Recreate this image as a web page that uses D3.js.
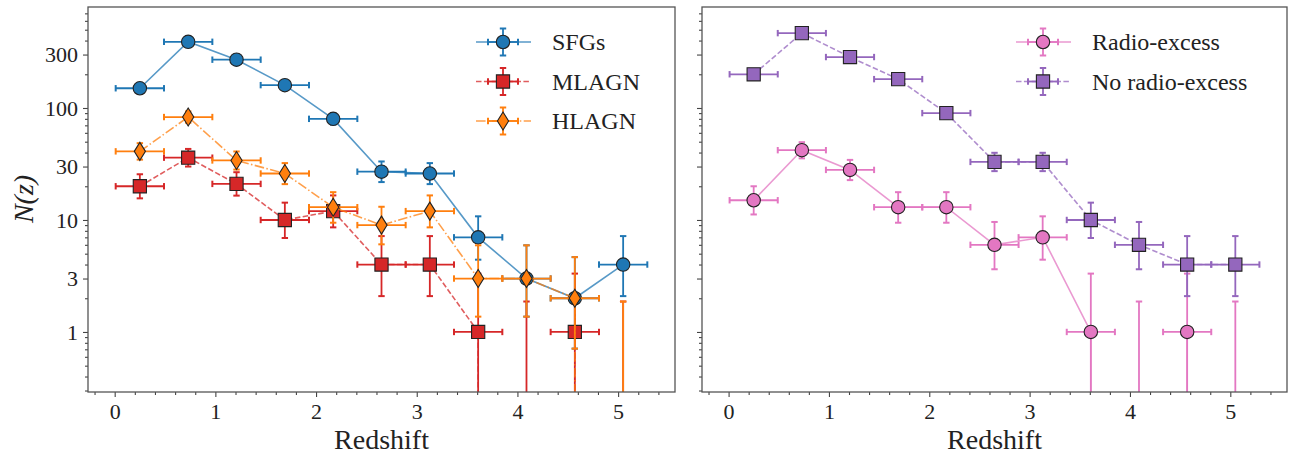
<!DOCTYPE html>
<html><head><meta charset="utf-8">
<script src="https://cdn.jsdelivr.net/npm/d3@7"></script>
<style>
body{margin:0;background:#fff}
text{font-family:"Liberation Serif","Times New Roman",serif;fill:#222}
</style>
</head><body>
<svg id="c" width="1292" height="460"></svg>
<script>
// ---------------- data ----------------
const redshift = [0.25,0.73,1.21,1.69,2.17,2.65,3.13,3.61,4.09,4.57,5.05];
const zHalfWidth = [0.24,0.24,0.24,0.24,0.24,0.24,0.24,0.24,0.24,0.24,0.24];

// left panel
const sfgN  = [150,390,270,160,80,27,26,7,3,2,4];
const sfgLo = [137.8,370.3,253.6,147.4,71.1,21.8,20.9,4.42,1.37,0.71,2.09];
const sfgHi = [163.3,410.8,287.5,173.7,90.0,33.3,32.2,10.78,5.94,4.66,7.18];

const mlagnN  = [20,36,21,10,12,4,4,1,0,1,0];
const mlagnLo = [15.6,30.0,16.5,6.90,8.59,2.09,2.09,0.17,0,0.17,0];
const mlagnHi = [25.6,43.1,26.7,14.28,16.57,7.18,7.18,3.32,1.87,3.32,1.87];

const hlagnN  = [41,83,34,26,13,9,12,3,3,2,0];
const hlagnLo = [34.6,73.9,28.2,20.9,9.45,6.06,8.59,1.37,1.37,0.71,0];
const hlagnHi = [48.5,93.2,40.9,32.2,17.71,13.12,16.57,5.94,5.94,4.66,1.87];

// right panel
const radioN  = [15,42,28,13,13,6,7,1,0,1,0];
const radioLo = [11.2,35.5,22.7,9.45,9.45,3.63,4.42,0.17,0,0.17,0];
const radioHi = [20.0,49.5,34.4,17.71,17.71,9.60,10.78,3.32,1.87,3.32,1.87];

const noRadioN  = [200,466,285,181,90,33,33,10,6,4,4];
const noRadioLo = [185.9,444.4,268.1,167.6,80.5,27.3,27.3,6.90,3.63,2.09,2.09];
const noRadioHi = [215.2,488.7,302.9,195.5,100.5,39.8,39.8,14.28,9.60,7.18,7.18];

const xTicks = [0,1,2,3,4,5];
const xMinorTicks = [-0.2,0.2,0.4,0.6,0.8,1.2,1.4,1.6,1.8,2.2,2.4,2.6,2.8,3.2,3.4,3.6,3.8,4.2,4.4,4.6,4.8,5.2,5.4];
const yTicks = [1,3,10,30,100,300];
const yTickLabels = ["1","3","10","30","100","300"];
const yMinorTicks = [0.3,0.4,0.5,0.6,0.7,0.8,0.9,2,4,5,6,7,8,9,20,40,50,60,70,80,90,200,400,500,600,700];

const leftSeries = [
  {name:"SFGs",  n:sfgN,   lo:sfgLo,   hi:sfgHi,   color:"#1f77b4", marker:"circle",  dash:null},
  {name:"MLAGN", n:mlagnN, lo:mlagnLo, hi:mlagnHi, color:"#d62728", marker:"square",  dash:"5.5,2.4"},
  {name:"HLAGN", n:hlagnN, lo:hlagnLo, hi:hlagnHi, color:"#ff7f0e", marker:"diamond", dash:"9.6,2.4,1.5,2.4"}
];
const rightSeries = [
  {name:"Radio-excess",    n:radioN,   lo:radioLo,   hi:radioHi,   color:"#e377c2", marker:"circle", dash:null},
  {name:"No radio-excess", n:noRadioN, lo:noRadioLo, hi:noRadioHi, color:"#9467bd", marker:"square", dash:"5.5,2.4"}
];

// ---------------- drawing ----------------
const svg = d3.select("#c");
const TOP = 7, BOTTOM = 392;
const yDomain = [0.291, 797.6];
const xDomain = [-0.265, 5.565];

function markerPath(type){
  if(type==="circle") return d3.symbol(d3.symbolCircle, Math.PI*6.7*6.7)();
  if(type==="square") return "M-6.6,-6.6H6.6V6.6H-6.6Z";
  return "M0,-9L5.6,0L0,9L-5.6,0Z";
}

function panel(id, x0, x1, series, showYLabels, legend){
  const x = d3.scaleLinear().domain(xDomain).range([x0, x1]);
  const y = d3.scaleLog().domain(yDomain).range([BOTTOM, TOP]);
  const g = svg.append("g");

  svg.append("defs").append("clipPath").attr("id","clip"+id)
    .append("rect").attr("x",x0).attr("y",TOP).attr("width",x1-x0).attr("height",BOTTOM-TOP);

  // axes
  const axB = g.append("g").attr("transform",`translate(0,${BOTTOM})`)
    .call(d3.axisBottom(x).tickValues(xTicks).tickSize(5).tickPadding(6).tickFormat(d3.format("d")));
  const axBm = g.append("g").attr("transform",`translate(0,${BOTTOM})`)
    .call(d3.axisBottom(x).tickValues(xMinorTicks).tickSize(3).tickFormat(""));
  const axL = g.append("g").attr("transform",`translate(${x0},0)`)
    .call(d3.axisLeft(y).tickValues(yTicks).tickSize(5).tickPadding(5)
      .tickFormat((d,i)=> showYLabels ? yTickLabels[i] : ""));
  const axLm = g.append("g").attr("transform",`translate(${x0},0)`)
    .call(d3.axisLeft(y).tickValues(yMinorTicks).tickSize(3).tickFormat(""));
  [axB,axBm,axL,axLm].forEach(a=>{
    a.select(".domain").remove();
    a.selectAll("line").attr("stroke","#444").attr("stroke-width",1.1);
    a.selectAll("text").attr("font-size",22).attr("fill","#222")
      .style("font-family",'"Liberation Serif",serif');
  });

  const plot = g.append("g").attr("clip-path",`url(#clip${id})`);
  const bigBelow = BOTTOM + 100000;
  const ly = v => v > 0 ? y(v) : bigBelow;

  series.forEach(s=>{
    const sg = plot.append("g");
    // connecting line
    const pts = redshift.map((z,i)=>[x(z), ly(s.n[i])]);
    sg.append("path").attr("d", d3.line()(pts))
      .attr("fill","none").attr("stroke",s.color).attr("stroke-width",1.6)
      .attr("stroke-opacity",0.75).attr("stroke-dasharray",s.dash);
    // error bars
    redshift.forEach((z,i)=>{
      const cx = x(z);
      const yTop = y(s.hi[i]);
      const yBot = s.lo[i] > 0 ? y(s.lo[i]) : bigBelow;
      sg.append("line").attr("x1",cx).attr("x2",cx).attr("y1",yTop).attr("y2",yBot)
        .attr("stroke",s.color).attr("stroke-width",1.8);
      sg.append("line").attr("x1",cx-3.2).attr("x2",cx+3.2).attr("y1",yTop).attr("y2",yTop)
        .attr("stroke",s.color).attr("stroke-width",2);
      if(s.lo[i] > 0){
        sg.append("line").attr("x1",cx-3.2).attr("x2",cx+3.2).attr("y1",yBot).attr("y2",yBot)
          .attr("stroke",s.color).attr("stroke-width",2);
      }
      if(s.n[i] > 0){
        const cy = y(s.n[i]);
        const xl = x(z - zHalfWidth[i]), xr = x(z + zHalfWidth[i]);
        sg.append("line").attr("x1",xl).attr("x2",xr).attr("y1",cy).attr("y2",cy)
          .attr("stroke",s.color).attr("stroke-width",1.8);
        [xl,xr].forEach(xx=>sg.append("line").attr("x1",xx).attr("x2",xx)
          .attr("y1",cy-3.2).attr("y2",cy+3.2).attr("stroke",s.color).attr("stroke-width",2));
      }
    });
    // markers
    redshift.forEach((z,i)=>{
      if(s.n[i] > 0){
        sg.append("path").attr("d",markerPath(s.marker))
          .attr("transform",`translate(${x(z)},${y(s.n[i])})`)
          .attr("fill",s.color).attr("stroke","#222").attr("stroke-width",1.1);
      }
    });
  });

  // frame
  g.append("rect").attr("x",x0).attr("y",TOP).attr("width",x1-x0).attr("height",BOTTOM-TOP)
    .attr("fill","none").attr("stroke","#555").attr("stroke-width",1.3);

  // x label
  g.append("text").attr("x",(x0+x1)/2).attr("y",449).attr("text-anchor","middle")
    .attr("font-size",28).text("Redshift");

  // legend
  series.forEach((s,i)=>{
    const cx = legend.x, cy = legend.y + i*39.5;
    const lg = g.append("g");
    lg.append("line").attr("x1",cx-27).attr("x2",cx+28).attr("y1",cy).attr("y2",cy)
      .attr("stroke",s.color).attr("stroke-width",1.6).attr("stroke-opacity",0.75)
      .attr("stroke-dasharray",s.dash);
    lg.append("line").attr("x1",cx-15).attr("x2",cx+15).attr("y1",cy).attr("y2",cy)
      .attr("stroke",s.color).attr("stroke-width",1.8);
    [cx-15,cx+15].forEach(xx=>lg.append("line").attr("x1",xx).attr("x2",xx)
      .attr("y1",cy-3.2).attr("y2",cy+3.2).attr("stroke",s.color).attr("stroke-width",2));
    lg.append("line").attr("x1",cx).attr("x2",cx).attr("y1",cy-13.5).attr("y2",cy+13.5)
      .attr("stroke",s.color).attr("stroke-width",1.8);
    [cy-13.5,cy+13.5].forEach(yy=>lg.append("line").attr("x1",cx-3.2).attr("x2",cx+3.2)
      .attr("y1",yy).attr("y2",yy).attr("stroke",s.color).attr("stroke-width",2));
    lg.append("path").attr("d",markerPath(s.marker)).attr("transform",`translate(${cx},${cy})`)
      .attr("fill",s.color).attr("stroke","#222").attr("stroke-width",1.1);
    lg.append("text").attr("x",legend.tx).attr("y",cy).attr("dy","0.35em")
      .attr("font-size",24).text(s.name);
  });
}

panel("L", 88, 675, leftSeries, true, {x:503, y:42, tx:552});
panel("R", 702, 1287, rightSeries, false, {x:1043, y:42, tx:1092});

// y label
svg.append("text").attr("transform","translate(33,199) rotate(-90)")
  .attr("text-anchor","middle").attr("font-size",28)
  .style("font-style","italic").text("N(z)");
</script>
</body></html>
